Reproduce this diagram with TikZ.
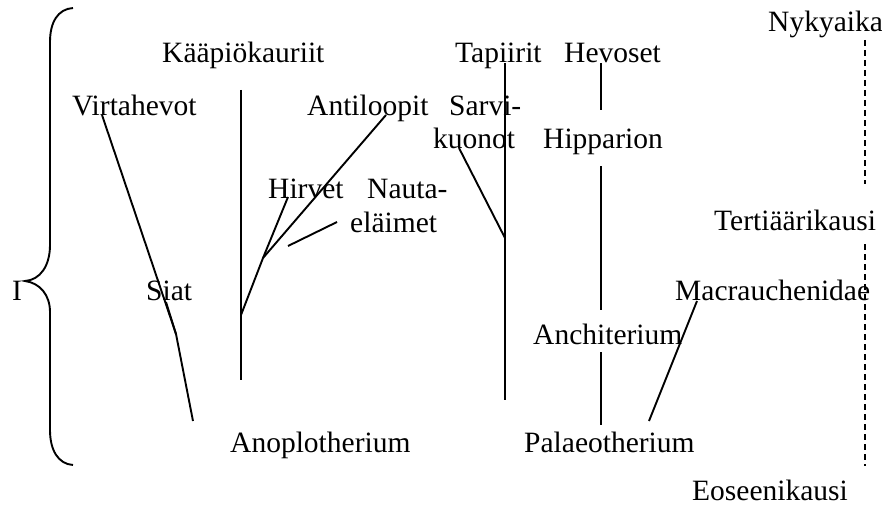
\documentclass[tikz,border=0pt]{standalone}
\usepackage{fontspec}
\setmainfont{Liberation Serif}
\begin{document}
\begin{tikzpicture}[x=1pt,y=-1pt,
  lbl/.style={anchor=base west,inner sep=0pt,font=\fontsize{29.5}{34}\selectfont},
  ln/.style={line width=1.9pt},
  dsh/.style={line width=1.9pt,dash pattern=on 6pt off 4pt}]
\useasboundingbox (0,0) rectangle (882,508);
% labels
\node[lbl] (nyk) at (768,32) {Nykyaika};
\node[lbl] (kaap) at (162,63) {Kääpiökauriit};
\node[lbl] (tap) at (455,63) {Tapiirit};
\node[lbl] (hev) at (564,63) {Hevoset};
\node[lbl] (virt) at (72,115) {Virtahevot};
\node[lbl] (anti) at (307,115) {Antiloopit};
\node[lbl] (sarvi) at (449,115) {Sarvi-};
\node[lbl] (kuon) at (433,148) {kuonot};
\node[lbl] (hipp) at (543,148) {Hipparion};
\node[lbl] (hirv) at (268,198) {Hirvet};
\node[lbl] (nauta) at (367,198) {Nauta-};
\node[lbl] (elaim) at (350,232) {eläimet};
\node[lbl] (tert) at (714,230) {Tertiäärikausi};
\node[lbl] (I) at (12,300) {I};
\node[lbl] (siat) at (146,300) {Siat};
\node[lbl] (macr) at (675,300) {Macrauchenidae};
\node[lbl] (anch) at (533,344) {Anchiterium};
\node[lbl] (anop) at (230,452) {Anoplotherium};
\node[lbl] (pala) at (524,452) {Palaeotherium};
\node[lbl] (eose) at (692,500) {Eoseenikausi};
% coordinates
\coordinate (v1) at (102,115);
\coordinate (v2) at (176,334);
\coordinate (s1) at (166,302);
\coordinate (v3) at (193,421);
\coordinate (k1) at (241,90);
\coordinate (k2) at (241,380);
\coordinate (k3) at (241,315);
\coordinate (k4) at (263,258);
\coordinate (h1) at (288,197);
\coordinate (a1) at (386,115);
\coordinate (n1) at (288,246);
\coordinate (n2) at (337,222);
\coordinate (t1) at (505,63);
\coordinate (t2) at (505,400);
\coordinate (t3) at (505,238);
\coordinate (sk1) at (459,148);
\coordinate (hv1) at (601,63);
\coordinate (hv2) at (601,110);
\coordinate (hp1) at (601,166);
\coordinate (hp2) at (601,310);
\coordinate (an1) at (601,352);
\coordinate (an2) at (601,425);
\coordinate (m1) at (697,301);
\coordinate (m2) at (649,421);
\coordinate (d1) at (865,40);
\coordinate (d2) at (865,184);
\coordinate (d3) at (865,244);
\coordinate (d4) at (865,466);
% brace
\draw[ln] (73,8) .. controls (58,9) and (50,22) .. (50,42) -- (50,245)
  .. controls (50,266) and (40,280) .. (25,281)
  .. controls (40,283) and (50,295) .. (50,312) -- (50,430)
  .. controls (50,450) and (58,464) .. (73,465);
% lines
\draw[ln] (v1) -- (v2) -- (v3);
\draw[ln] (s1) -- (v2);
\draw[ln] (k1) -- (k2);
\draw[ln] (k3) -- (k4) -- (h1);
\draw[ln] (k4) -- (a1);
\draw[ln] (n1) -- (n2);
\draw[ln] (t1) -- (t2);
\draw[ln] (sk1) -- (t3);
\draw[ln] (hv1) -- (hv2);
\draw[ln] (hp1) -- (hp2);
\draw[ln] (an1) -- (an2);
\draw[ln] (m1) -- (m2);
\draw[dsh] (d1) -- (d2);
\draw[dsh] (d3) -- (d4);
\end{tikzpicture}
\end{document}
